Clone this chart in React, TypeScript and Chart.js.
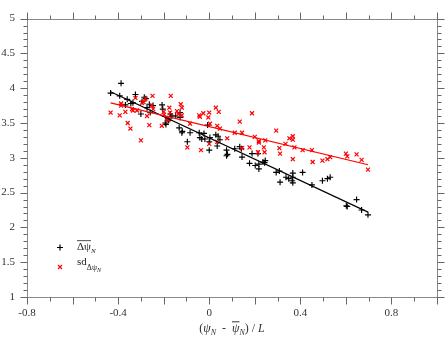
import React, { useEffect, useRef } from "react";
import { Chart, registerables } from "chart.js";

Chart.register(...registerables);

// mean delta psi (black +)
const meanX = [-0.433, -0.387, -0.393, -0.36, -0.368, -0.344, -0.324, -0.335, -0.3, -0.295, -0.285, -0.278, -0.273, -0.263, -0.259, -0.247, -0.207, -0.204, -0.193, -0.19, -0.182, -0.178, -0.171, -0.164, -0.147, -0.128, -0.128, -0.12, -0.118, -0.132, -0.096, -0.084, -0.044, -0.041, -0.033, -0.023, -0.019, -0.007, 0, 0, 0.003, 0.029, 0.035, 0.039, 0.047, 0.076, 0.076, 0.08, 0.112, 0.134, 0.141, 0.144, 0.177, 0.188, 0.202, 0.214, 0.218, 0.218, 0.236, 0.243, 0.246, 0.294, 0.308, 0.311, 0.337, 0.349, 0.367, 0.367, 0.367, 0.364, 0.41, 0.451, 0.497, 0.519, 0.531, 0.602, 0.606, 0.647, 0.669, 0.697];
const meanY = [3.93, 4.07, 3.89, 3.84, 3.76, 3.78, 3.91, 3.79, 3.63, 3.81, 3.87, 3.85, 3.72, 3.77, 3.65, 3.75, 3.76, 3.7, 3.5, 3.48, 3.56, 3.54, 3.63, 3.6, 3.6, 3.58, 3.65, 3.36, 3.38, 3.43, 3.23, 3.36, 3.36, 3.29, 3.27, 3.35, 3.27, 3.47, 3.11, 3.23, 3.29, 3.33, 3.17, 3.31, 3.26, 3.11, 3.03, 3.05, 3.13, 3.16, 3.13, 3.01, 2.92, 3.06, 2.89, 3.06, 2.91, 2.84, 2.94, 2.93, 2.96, 2.79, 2.81, 2.65, 2.72, 2.7, 2.78, 2.72, 2.64, 2.67, 2.79, 2.61, 2.67, 2.7, 2.72, 2.31, 2.3, 2.4, 2.25, 2.18];

// sd of delta psi (red x)
const sdX = [-0.433, -0.393, -0.387, -0.387, -0.368, -0.358, -0.346, -0.339, -0.335, -0.324, -0.317, -0.3, -0.295, -0.288, -0.28, -0.273, -0.263, -0.252, -0.249, -0.246, -0.208, -0.2, -0.198, -0.186, -0.179, -0.175, -0.169, -0.172, -0.142, -0.135, -0.125, -0.12, -0.12, -0.096, -0.084, -0.044, -0.041, -0.036, -0.026, -0.004, 0, 0.003, 0, 0.029, 0.035, 0.042, 0.047, 0.035, 0.079, 0.112, 0.134, 0.144, 0.144, 0.177, 0.188, 0.2, 0.218, 0.218, 0.214, 0.24, 0.246, 0.243, 0.294, 0.308, 0.311, 0.335, 0.352, 0.367, 0.367, 0.367, 0.374, 0.41, 0.451, 0.454, 0.497, 0.519, 0.531, 0.6, 0.606, 0.647, 0.669, 0.697];
const sdY = [3.65, 3.61, 3.78, 3.75, 3.66, 3.5, 3.42, 3.7, 3.68, 3.86, 3.68, 3.25, 3.79, 3.8, 3.85, 3.6, 3.47, 3.75, 3.89, 3.7, 3.46, 3.66, 3.62, 3.56, 3.54, 3.72, 3.89, 3.65, 3.67, 3.63, 3.77, 3.72, 3.61, 3.15, 3.49, 3.61, 3.59, 3.11, 3.64, 3.58, 3.65, 3.49, 3.2, 3.72, 3.46, 3.66, 3.42, 3.23, 3.28, 3.36, 3.52, 3.36, 3.14, 3.15, 3.64, 3.3, 3.24, 3.22, 3.08, 3.15, 3.25, 3.08, 3.39, 3.14, 3.06, 3.2, 3.28, 3.31, 3.26, 2.98, 3.15, 3.11, 3.11, 2.94, 2.96, 2.98, 3.01, 3.06, 3.02, 3.05, 2.97, 2.83];

// fitted lines (end points)
const meanFitX = [-0.433, 0.697];
const meanFitY = [3.95, 2.22];
const sdFitX = [-0.433, 0.697];
const sdFitY = [3.79, 2.9];

// axes
const xMin = -0.8;
const xMax = 1.0;
const yMin = 1;
const yMax = 5;
const xLabelStep = 0.4;
const yLabelStep = 0.5;
const xTickStep = 0.1;
const xMajorEvery = 2;
const yTickStep = 0.1;
const yMajorEvery = 5;

const SERIF = "'Liberation Serif', 'DejaVu Serif', serif";

const pts = (xs: number[], ys: number[]) => xs.map((x, i) => ({ x, y: ys[i] }));

type Seg = { t: string; size: number; italic?: boolean; dy?: number; over?: boolean };

function segFont(s: Seg) {
  return `${s.italic ? "italic " : ""}${s.size}px ${SERIF}`;
}
function seqWidth(ctx: CanvasRenderingContext2D, segs: Seg[]) {
  let w = 0;
  for (const s of segs) {
    ctx.font = segFont(s);
    w += ctx.measureText(s.t).width;
  }
  return w;
}
function drawSeq(ctx: CanvasRenderingContext2D, segs: Seg[], x: number, base: number) {
  let cx = x;
  for (const s of segs) {
    ctx.font = segFont(s);
    const w = ctx.measureText(s.t).width;
    ctx.fillText(s.t, cx, base + (s.dy || 0));
    if (s.over) {
      ctx.beginPath();
      ctx.moveTo(cx, base - s.size * 0.85);
      ctx.lineTo(cx + w, base - s.size * 0.85);
      ctx.stroke();
    }
    cx += w;
  }
}

const framePlugin = {
  id: "frameTicks",
  afterDraw(chart: any) {
    const { ctx, chartArea: a, scales } = chart;
    const xs = scales.x;
    const ys = scales.y;
    ctx.save();
    const L = Math.round(a.left) + 0.5;
    const R = Math.round(a.right) + 0.5;
    const T = Math.round(a.top) + 0.5;
    const B = Math.round(a.bottom) + 0.5;
    ctx.strokeStyle = "#888";
    ctx.lineWidth = 1;
    ctx.strokeRect(L, T, R - L, B - T);
    ctx.strokeStyle = "#666";
    ctx.beginPath();
    const nx = Math.round((xMax - xMin) / xTickStep);
    for (let k = 0; k <= nx; k++) {
      const v = xMin + k * xTickStep;
      const px = Math.round(xs.getPixelForValue(v)) + 0.5;
      const len = k % xMajorEvery === 0 ? 7 : 4;
      ctx.moveTo(px, B);
      ctx.lineTo(px, B + len);
      ctx.moveTo(px, T);
      ctx.lineTo(px, T - len);
    }
    const ny = Math.round((yMax - yMin) / yTickStep);
    for (let k = 0; k <= ny; k++) {
      const v = yMin + k * yTickStep;
      const py = Math.round(ys.getPixelForValue(v)) + 0.5;
      const len = k % yMajorEvery === 0 ? 7 : 4;
      ctx.moveTo(L, py);
      ctx.lineTo(L - len, py);
      ctx.moveTo(R, py);
      ctx.lineTo(R + len, py);
    }
    ctx.stroke();

    // axis title
    ctx.fillStyle = "#333";
    ctx.strokeStyle = "#333";
    ctx.lineWidth = 1;
    ctx.textBaseline = "alphabetic";
    ctx.textAlign = "left";
    const title: Seg[] = [
      { t: "(", size: 12 },
      { t: "ψ", size: 12, italic: true },
      { t: "N", size: 8, italic: true, dy: 3 },
      { t: "  -  ", size: 12 },
      { t: "ψ", size: 12, italic: true, over: true },
      { t: "N", size: 8, italic: true, dy: 3 },
      { t: ")", size: 12 },
      { t: " / ", size: 12 },
      { t: "L", size: 12, italic: true },
    ];
    const tw = seqWidth(ctx, title);
    drawSeq(ctx, title, (a.left + a.right) / 2 - tw / 2, 332);

    // legend
    ctx.lineWidth = 1.2;
    ctx.strokeStyle = "#000";
    ctx.beginPath();
    ctx.moveTo(57, 247.5);
    ctx.lineTo(63, 247.5);
    ctx.moveTo(60, 244.5);
    ctx.lineTo(60, 250.5);
    ctx.stroke();
    ctx.strokeStyle = "#ff0000";
    ctx.lineWidth = 1.2;
    ctx.beginPath();
    ctx.moveTo(58, 265);
    ctx.lineTo(62, 269);
    ctx.moveTo(62, 265);
    ctx.lineTo(58, 269);
    ctx.stroke();

    ctx.fillStyle = "#222";
    ctx.strokeStyle = "#222";
    ctx.lineWidth = 0.8;
    drawSeq(
      ctx,
      [
        { t: "Δψ", size: 11, over: true },
        { t: "N", size: 7, italic: true, dy: 3 },
      ],
      77,
      250
    );
    drawSeq(
      ctx,
      [
        { t: "sd", size: 11 },
        { t: "Δψ", size: 8, dy: 5 },
        { t: "N", size: 6, italic: true, dy: 7 },
      ],
      77,
      265
    );
    ctx.restore();
  },
};

export default function App() {
  const ref = useRef<HTMLCanvasElement | null>(null);
  useEffect(() => {
    document.body.style.margin = "0";
    const canvas = ref.current;
    if (!canvas) return;
    const chart = new Chart(canvas, {
      type: "scatter",
      data: {
        datasets: [
          {
            label: "sd fit",
            data: pts(sdFitX, sdFitY),
            showLine: true,
            borderColor: "#ff0000",
            borderWidth: 1.2,
            pointRadius: 0,
          },
          {
            label: "mean fit",
            data: pts(meanFitX, meanFitY),
            showLine: true,
            borderColor: "#000000",
            borderWidth: 1.2,
            pointRadius: 0,
          },
          {
            label: "sd",
            data: pts(sdX, sdY),
            pointStyle: "crossRot",
            pointRadius: 2.8,
            borderColor: "#ff0000",
            backgroundColor: "#ff0000",
            borderWidth: 1.2,
          },
          {
            label: "mean",
            data: pts(meanX, meanY),
            pointStyle: "cross",
            pointRadius: 3,
            borderColor: "#000000",
            backgroundColor: "#000000",
            borderWidth: 1.15,
          },
        ],
      },
      options: {
        responsive: false,
        animation: false,
        devicePixelRatio: 1,
        layout: { padding: { top: 10, right: 10, left: 0, bottom: 0 } },
        plugins: { legend: { display: false }, tooltip: { enabled: false } },
        scales: {
          x: {
            type: "linear",
            min: xMin,
            max: xMax,
            afterFit: (s: any) => {
              s.height = 41;
            },
            grid: { display: false, drawTicks: false },
            border: { display: false },
            ticks: {
              stepSize: xLabelStep,
              includeBounds: false,
              padding: 10,
              color: "#333",
              font: { family: SERIF, size: 11 },
              maxRotation: 0,
              callback: (v: any) => {
                const r = Math.round(Number(v) * 10) / 10;
                return r === 0 ? "0" : String(r);
              },
            },
          },
          y: {
            type: "linear",
            min: yMin,
            max: yMax,
            afterFit: (s: any) => {
              s.width = 27;
            },
            grid: { display: false, drawTicks: false },
            border: { display: false },
            ticks: {
              stepSize: yLabelStep,
              padding: 12,
              color: "#333",
              font: { family: SERIF, size: 11 },
              callback: (v: any) => String(Math.round(Number(v) * 10) / 10),
            },
          },
        },
      },
      plugins: [framePlugin],
    } as any);
    return () => chart.destroy();
  }, []);
  return (
    <div style={{ width: 447, height: 338 }}>
      <canvas ref={ref} width={447} height={338} style={{ display: "block" }} />
    </div>
  );
}
